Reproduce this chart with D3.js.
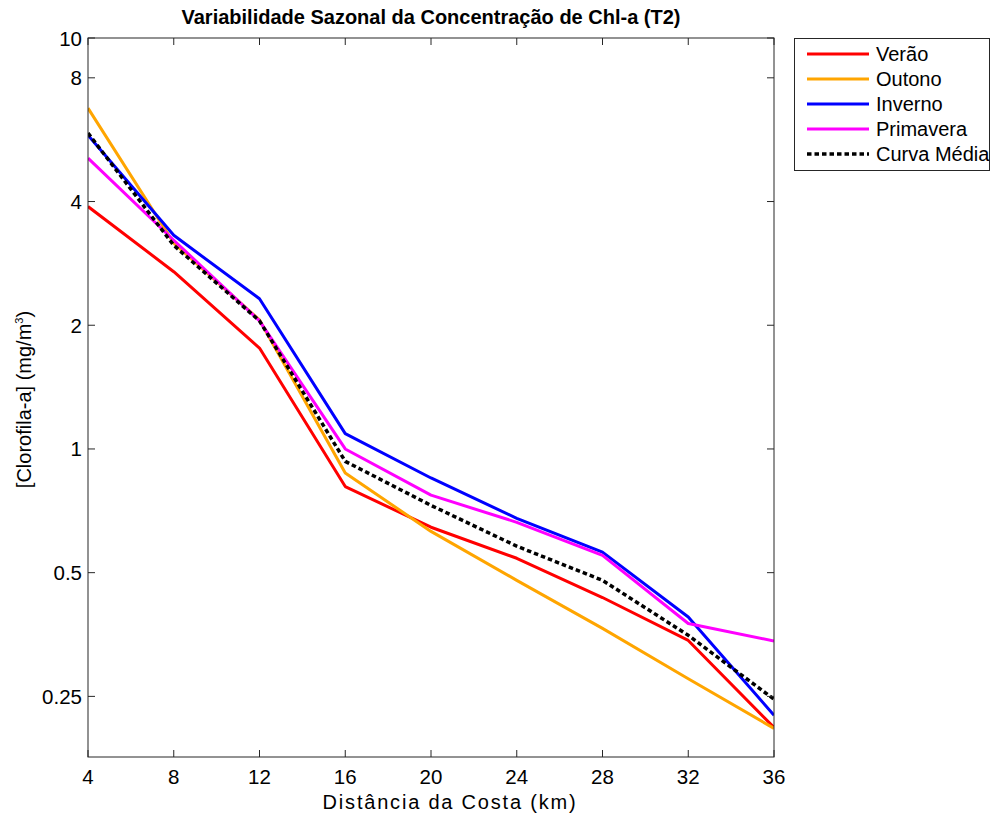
<!DOCTYPE html>
<html>
<head>
<meta charset="utf-8">
<script src="https://d3js.org/d3.v7.min.js"></script>
<style>
  body { margin: 0; background: #fff; }
  svg { font-family: "Liberation Sans", Arial, sans-serif; }
  .tick-label { font-size: 20.5px; fill: #000; }
  .axis-title { font-size: 20px; fill: #000; }
  .title { font-size: 20px; font-weight: bold; fill: #000; }
  .legend text { font-size: 20px; fill: #000; }
</style>
</head>
<body>
<div id="chart"></div>
<script>
  // distance from the coast (km)
  const distances = [4, 8, 12, 16, 20, 24, 28, 32, 36];

  // Chl-a concentration (mg/m3) per season
  const verao     = [3.89, 2.70, 1.76, 0.81, 0.645, 0.542, 0.435, 0.342, 0.210];
  const outono    = [6.75, 3.17, 2.06, 0.874, 0.63, 0.479, 0.366, 0.276, 0.209];
  const inverno   = [5.80, 3.31, 2.32, 1.09, 0.85, 0.678, 0.561, 0.39, 0.225];
  const primavera = [5.10, 3.22, 2.05, 1.00, 0.772, 0.663, 0.551, 0.376, 0.341];
  const media     = [5.87, 3.13, 2.05, 0.933, 0.729, 0.580, 0.479, 0.352, 0.246];

  const seriesNames = ["Verão", "Outono", "Inverno", "Primavera", "Curva Média"];
  const seriesColors = ["#ff0000", "#ffa500", "#0000ff", "#ff00ff", "#000000"];
  const seriesValues = [verao, outono, inverno, primavera, media];

  const xTicks = [4, 8, 12, 16, 20, 24, 28, 32, 36];
  const yTicks = [0.25, 0.5, 1, 2, 4, 8, 10];
  const yTickLabels = ["0.25", "0.5", "1", "2", "4", "8", "10"];

  const width = 991, height = 813;
  const margin = { top: 38, right: 217, bottom: 56, left: 88 };
  const plotW = width - margin.left - margin.right;   // 686
  const plotH = height - margin.top - margin.bottom;  // 719

  const svg = d3.select("#chart").append("svg")
    .attr("width", width).attr("height", height);

  const x = d3.scaleLinear().domain([4, 36]).range([margin.left, margin.left + plotW]);
  const y = d3.scaleLog().domain([0.178, 10]).range([margin.top + plotH, margin.top]);

  const axisColor = "#262626";
  const tickLen = 7;

  // clip for the data lines
  svg.append("clipPath").attr("id", "clip")
    .append("rect")
    .attr("x", margin.left).attr("y", margin.top)
    .attr("width", plotW).attr("height", plotH);

  const line = d3.line()
    .x((d, i) => x(distances[i]))
    .y(d => y(d));

  const lines = svg.append("g").attr("clip-path", "url(#clip)");
  seriesValues.forEach((vals, i) => {
    const isMean = i === 4;
    lines.append("path")
      .datum(vals)
      .attr("d", line)
      .attr("fill", "none")
      .attr("stroke", seriesColors[i])
      .attr("stroke-width", isMean ? 3.5 : 3)
      .attr("stroke-dasharray", isMean ? "4.5,3" : null)
      .attr("stroke-linejoin", "round");
  });

  // box
  svg.append("rect")
    .attr("x", margin.left).attr("y", margin.top)
    .attr("width", plotW).attr("height", plotH)
    .attr("fill", "none").attr("stroke", axisColor).attr("stroke-width", 1);

  // x ticks (bottom and top, pointing inward)
  const xt = svg.append("g");
  xTicks.forEach(t => {
    const px = x(t);
    xt.append("line").attr("x1", px).attr("x2", px)
      .attr("y1", margin.top + plotH).attr("y2", margin.top + plotH - tickLen)
      .attr("stroke", axisColor);
    xt.append("line").attr("x1", px).attr("x2", px)
      .attr("y1", margin.top).attr("y2", margin.top + tickLen)
      .attr("stroke", axisColor);
    xt.append("text").attr("class", "tick-label")
      .attr("x", px).attr("y", margin.top + plotH + 27)
      .attr("text-anchor", "middle")
      .text(t);
  });

  // y ticks (left and right, pointing inward)
  const yt = svg.append("g");
  yTicks.forEach((t, i) => {
    const py = y(t);
    yt.append("line").attr("x1", margin.left).attr("x2", margin.left + tickLen)
      .attr("y1", py).attr("y2", py).attr("stroke", axisColor);
    yt.append("line").attr("x1", margin.left + plotW).attr("x2", margin.left + plotW - tickLen)
      .attr("y1", py).attr("y2", py).attr("stroke", axisColor);
    yt.append("text").attr("class", "tick-label")
      .attr("x", margin.left - 6).attr("y", py + 7.5)
      .attr("text-anchor", "end")
      .text(yTickLabels[i]);
  });

  // axis titles
  svg.append("text").attr("class", "axis-title")
    .attr("x", margin.left + plotW / 2 + 19).attr("y", margin.top + plotH + 52)
    .attr("text-anchor", "middle")
    .attr("letter-spacing", "1.8px")
    .text("Distância da Costa (km)");

  const yl = svg.append("text").attr("class", "axis-title")
    .attr("transform", `translate(31,${margin.top + plotH / 2 + 2}) rotate(-90)`)
    .attr("text-anchor", "middle");
  yl.append("tspan").text("[Clorofila-a] (mg/m");
  yl.append("tspan").attr("font-size", "11px").attr("dy", -8).text("3");
  yl.append("tspan").attr("dy", 8).text(")");

  svg.append("text").attr("class", "title")
    .attr("x", margin.left + plotW / 2).attr("y", 24)
    .attr("text-anchor", "middle")
    .text("Variabilidade Sazonal da Concentração de Chl-a (T2)");

  // legend
  const lg = svg.append("g").attr("class", "legend");
  lg.append("rect")
    .attr("x", 794.5).attr("y", 38.5).attr("width", 195).attr("height", 132)
    .attr("fill", "#fff").attr("stroke", axisColor).attr("stroke-width", 1);
  seriesNames.forEach((name, i) => {
    const ly = 54 + i * 25;
    lg.append("line")
      .attr("x1", 807).attr("x2", 869).attr("y1", ly).attr("y2", ly)
      .attr("stroke", seriesColors[i])
      .attr("stroke-width", i === 4 ? 3.5 : 3)
      .attr("stroke-dasharray", i === 4 ? "4.5,3" : null);
    lg.append("text").attr("x", 876).attr("y", ly + 7).text(name);
  });
</script>
</body>
</html>
